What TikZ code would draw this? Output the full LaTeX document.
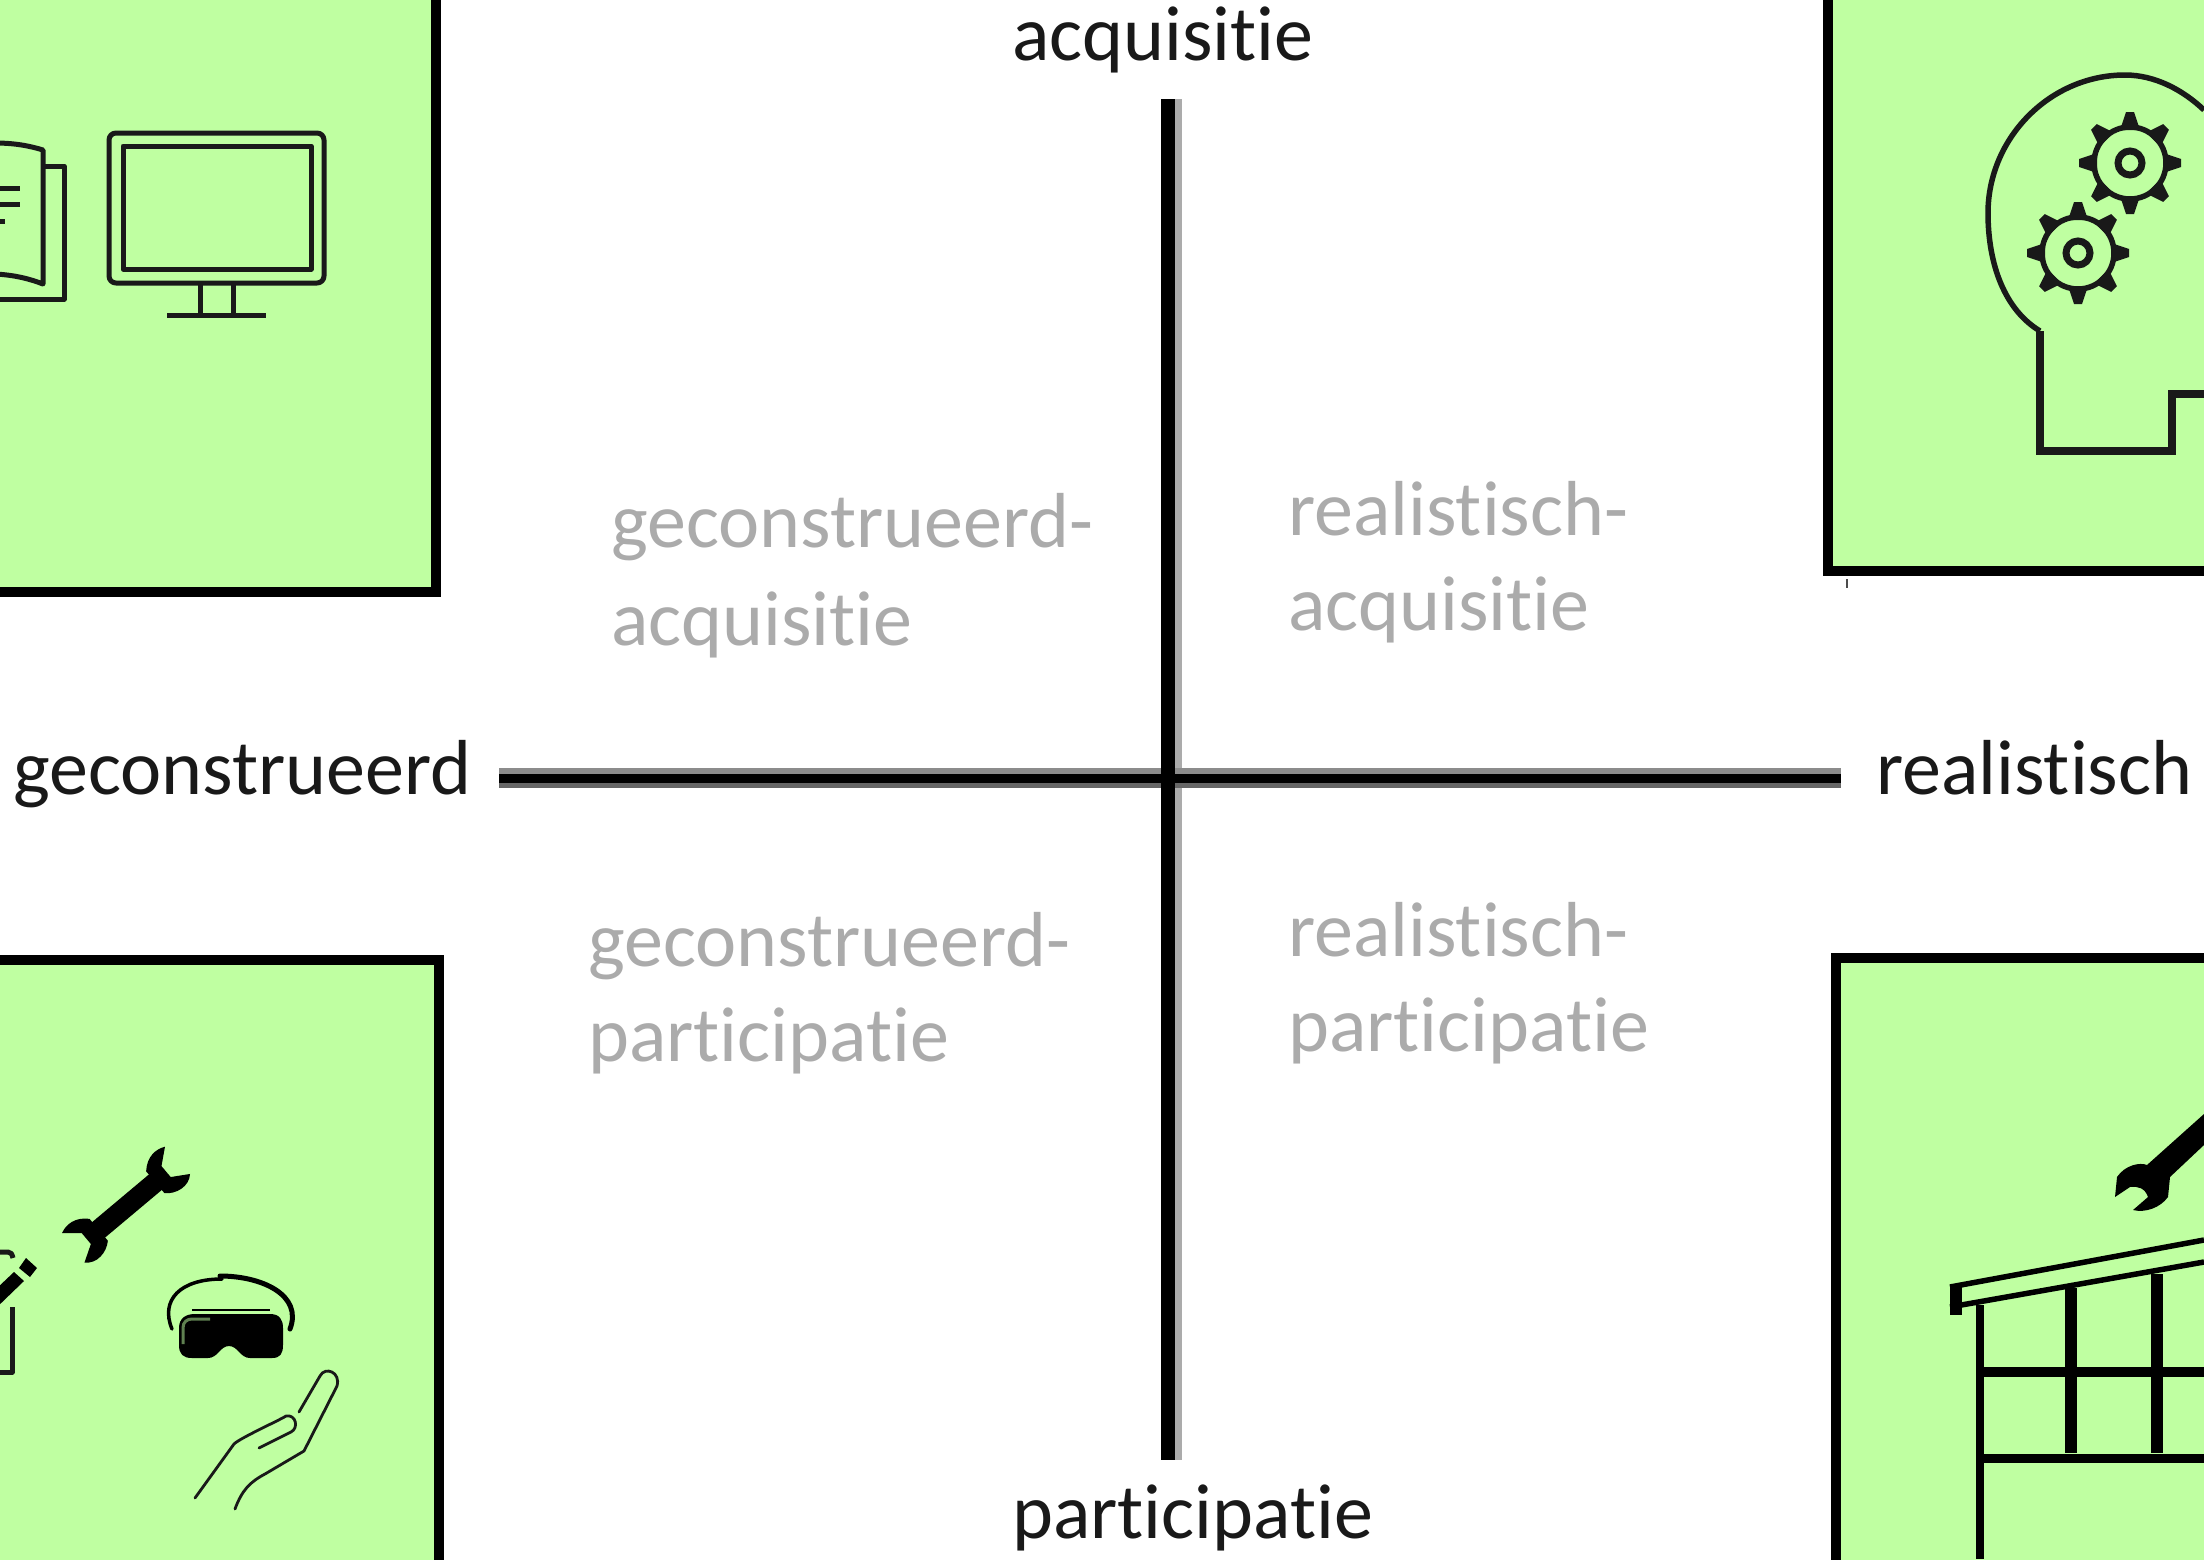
\documentclass[tikz,border=0pt]{standalone}
\usepackage{fontspec}
\setmainfont[Ligatures=NoCommon]{Carlito}
\definecolor{boxgreen}{HTML}{BFFFA1}
\definecolor{labelgrey}{HTML}{ABABAB}
\tikzset{
  panel/.style={draw=black,line width=10pt,fill=boxgreen},
  pole/.style={anchor=base west,font=\fontsize{78}{90}\selectfont,text=black!90,inner sep=0pt},
  quad/.style={anchor=base west,font=\fontsize{78}{90}\selectfont,text=labelgrey,inner sep=0pt},
  icon/.style={draw=black!90,line width=5pt,line join=round},
  headline/.style={draw=black!90,line width=5.5pt,line join=round},
  thinicon/.style={draw=black!90,line width=2.8pt,line cap=round,line join=round},
}
\begin{document}
\begin{tikzpicture}[x=1pt,y=-1pt]
\useasboundingbox (0,0) rectangle (2204,1559);
% panels
\draw[panel] (-20,-20) rectangle (436,592);
\draw[panel] (1828,-20) rectangle (2224,571);
\draw[panel] (-20,960) rectangle (439,1579);
\draw[panel] (1836,958) rectangle (2224,1579);
\draw[black!70,line width=1.5pt] (1847,579) -- (1847,588);
% axes
\coordinate (top) at (1168,99);
\coordinate (bot) at (1168,1460);
\coordinate (topg) at (1178,99);
\coordinate (botg) at (1178,1460);
\coordinate (lef) at (499,778.5);
\coordinate (rig) at (1841,778.5);
\coordinate (lefu) at (499,771);
\coordinate (rigu) at (1841,771);
\coordinate (lefd) at (499,785.5);
\coordinate (rigd) at (1841,785.5);
\draw[draw=black!33,line width=7pt] (topg) -- (botg);
\draw[draw=black!45,line width=6pt] (lefu) -- (rigu);
\draw[draw=black!60,line width=5pt] (lefd) -- (rigd);
\draw[draw=black,line width=9pt] (lef) -- (rig);
\draw[draw=black,line width=14pt] (top) -- (bot);
% pole labels
\node[pole] (a) at (1012,60) {acquisitie};
\node[pole] (g) at (13,794) {geconstrueerd};
\node[pole] (r) at (1876,794) {realistisch};
\node[pole] (p) at (1012,1538) {participatie};
% quadrant labels
\node[quad] (ga1) at (611,547) {geconstrueerd-};
\node[quad] (ga2) at (611,645) {acquisitie};
\node[quad] (ra1) at (1288,535) {realistisch-};
\node[quad] (ra2) at (1288,630) {acquisitie};
\node[quad] (gp1) at (588,966) {geconstrueerd-};
\node[quad] (gp2) at (588,1061) {participatie};
\node[quad] (rp1) at (1288,956) {realistisch-};
\node[quad] (rp2) at (1288,1051) {participatie};
% monitor
\draw[icon,rounded corners=7pt] (109,133) rectangle (324,283);
\draw[icon] (123,146) rectangle (311,269);
\draw[icon] (200,284) -- (200,314) (233,284) -- (233,314);
\draw[icon] (167,315) -- (266,315);
% book
\draw[icon] (-5,143) .. controls (15,143) and (30,146) .. (43,150) -- (43,284) .. controls (30,279) and (15,275) .. (-5,274);
\draw[icon] (45,166) -- (64,166) -- (64,299) -- (-5,299);
\draw[icon] (-5,188) -- (20,188) (-5,204) -- (20,204) (-5,221) -- (5,221);
% head
\draw[headline] (2204,110) .. controls (2183,90) and (2155,75) .. (2125,75)
  .. controls (2050,75) and (1988,138) .. (1988,213)
  .. controls (1988,265) and (2005,310) .. (2040,331);
\draw[draw=black!90,line width=7.5pt,line join=miter] (2040,331) -- (2040,451) -- (2172,451) -- (2172,394) -- (2204,394);
\foreach \cx/\cy in {2130/163,2078/253}{
  \foreach \a in {0,45,...,315}{
    \fill[black!90,shift={(\cx,\cy)},rotate=\a] (-4,-51) -- (4,-51) -- (10,-33) -- (-10,-33) -- cycle;
  }
  \draw[black!90,line width=5.5pt] (\cx,\cy) circle (36pt);
  \draw[black!90,line width=7pt] (\cx,\cy) circle (12pt);
}
% left wrench
\begin{scope}[shift={(127,1206)},rotate=40,scale=0.84]
  \fill[black] (-50,-12) rectangle (50,12);
  \fill[black] (44,-17) .. controls (56,-30) and (70,-30) .. (80,-25) -- (62,-10) -- (62,7) -- (82,19) .. controls (72,30) and (54,27) .. (44,17) -- cycle;
  \fill[black] (-44,-17) .. controls (-56,-30) and (-70,-30) .. (-80,-25) -- (-62,-10) -- (-62,7) -- (-82,19) .. controls (-72,30) and (-54,27) .. (-44,17) -- cycle;
\end{scope}
% fragment of clipboard and pencil
\draw[icon] (-5,1252) -- (8,1252) .. controls (11,1252) and (12,1254) .. (13,1258);
\draw[icon] (12,1307) -- (12,1372) -- (-5,1372);
\fill[black] (-5,1290) -- (14,1272) -- (24,1281) -- (-5,1309) -- cycle;
\fill[black] (19,1268) -- (26,1258) -- (37,1268) -- (30,1277) -- cycle;
% VR goggles
\draw[black,line width=3.5pt,line cap=round] (172,1329) .. controls (160,1300) and (180,1279) .. (222,1279);
\draw[black,line width=5pt,line cap=round] (220,1276) .. controls (262,1276) and (303,1295) .. (290,1329);
\fill[black] (179,1328) .. controls (179,1318) and (186,1314) .. (195,1314) -- (270,1314) .. controls (280,1314) and (283,1320) .. (283,1328)
  -- (283,1345) .. controls (283,1354) and (280,1358) .. (272,1358) -- (250,1358) .. controls (240,1358) and (238,1346) .. (229,1346)
  .. controls (220,1346) and (218,1358) .. (208,1358) -- (192,1358) .. controls (183,1358) and (179,1354) .. (179,1345) -- cycle;
\draw[black,line width=2.5pt] (192,1310) -- (270,1310);
\draw[draw=black!50!boxgreen,line width=3pt] (183,1344) -- (183,1328) .. controls (183,1322) and (187,1319) .. (192,1319) -- (210,1319);
% hand
\draw[thinicon] (195,1498) -- (234,1444) .. controls (240,1438) and (280,1420) .. (286,1416) .. controls (296,1414) and (299,1428) .. (291,1432) -- (259,1448);
\draw[thinicon] (235,1509) .. controls (242,1490) and (250,1482) .. (265,1474) -- (304,1451) -- (337,1386) .. controls (341,1372) and (325,1366) .. (320,1376) -- (299,1412);
% right wrench
\fill[black] (2204,1114) -- (2147,1165) .. controls (2140,1162) and (2125,1165) .. (2117,1177) -- (2115,1197) -- (2130,1187)
  .. controls (2138,1186) and (2145,1188) .. (2148,1197) -- (2133,1210) .. controls (2145,1213) and (2160,1208) .. (2168,1197) -- (2170,1177) -- (2204,1145) -- cycle;
% building
\draw[black,line width=5.5pt] (1950,1287) -- (2204,1240);
\draw[black,line width=5.5pt] (1950,1307) -- (2204,1262);
\fill[black] (1950,1284) rectangle (1962,1315);
\draw[black,line width=8pt] (1980,1305) -- (1980,1559);
\draw[black,line width=12.5pt] (2071,1288) -- (2071,1453);
\draw[black,line width=11.5pt] (2157,1274) -- (2157,1453);
\draw[black,line width=10pt] (1980,1372) -- (2204,1372);
\draw[black,line width=9pt] (1980,1458) -- (2204,1458);
\end{tikzpicture}
\end{document}
